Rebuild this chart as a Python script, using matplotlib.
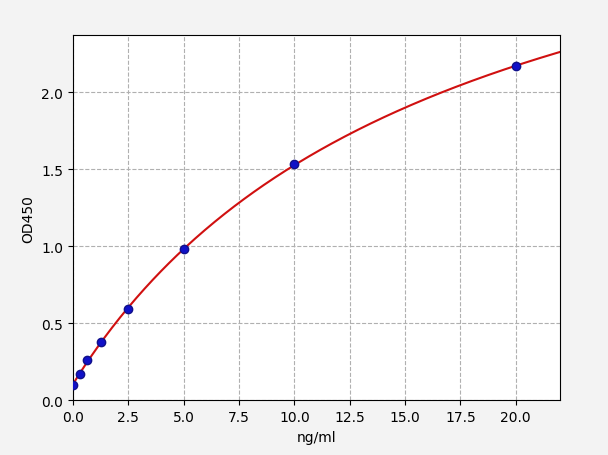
import numpy as np
import matplotlib
matplotlib.use("Agg")
import matplotlib.pyplot as plt

# standard points
conc = [0, 0.3125, 0.625, 1.25, 2.5, 5, 10, 20]
od = [0.100, 0.172, 0.260, 0.375, 0.590, 0.980, 1.530, 2.170]

x = np.array(conc, dtype=float)
y = np.array(od, dtype=float)


def fit_4pl(x, y):
    # grid over b, c; a and d solved linearly
    best = None
    for b in np.linspace(0.5, 2.5, 201):
        for c in np.exp(np.linspace(np.log(2), np.log(500), 300)):
            g = 1.0 / (1.0 + (x / c) ** b)
            A = np.column_stack([np.ones_like(x), g])
            coef, *_ = np.linalg.lstsq(A, y, rcond=None)
            err = np.sum((A @ coef - y) ** 2)
            if best is None or err < best[0]:
                best = (err, b, c, coef)
    _, b, c, (d, k) = best
    return lambda t: d + k / (1.0 + (t / c) ** b)


f = fit_4pl(x, y)
xs = np.linspace(0, 22, 300)

fig = plt.figure(figsize=(6.08, 4.56), dpi=100, facecolor="#f3f3f3")
ax = fig.add_axes([0.12, 0.12, 0.801, 0.801])
ax.plot(xs, f(xs), color="#d01010", lw=1.5, zorder=2)
ax.plot(x, y, "o", color="#1010c8", mec="#10108a", ms=6, zorder=3)
ax.grid(True, ls="--", color="#b0b0b0", lw=0.8)
ax.set_xlim(0, 22)
ax.set_ylim(0, 2.37)
ax.set_xticks(np.arange(0, 22.5, 2.5))
ax.set_yticks([0, 0.5, 1.0, 1.5, 2.0])
ax.set_xlabel("ng/ml")
ax.set_ylabel("OD450")
fig.savefig("out.png", dpi=100, facecolor=fig.get_facecolor())
